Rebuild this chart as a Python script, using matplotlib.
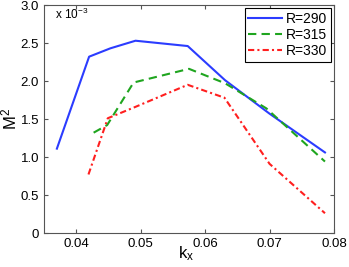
import numpy as np
import matplotlib
matplotlib.use("Agg")
import matplotlib.pyplot as plt

plt.rcParams['font.family'] = ['Liberation Sans', 'DejaVu Sans']
plt.rcParams['mathtext.fontset'] = 'custom'
plt.rcParams['mathtext.rm'] = 'Liberation Sans'

# data (M^2 in units of 1e-3)
kx_290 = [0.037, 0.042, 0.0453, 0.0492, 0.0573, 0.0631, 0.0700, 0.0786]
m2_290 = [1.11, 2.32, 2.43, 2.53, 2.46, 2.01, 1.57, 1.06]

kx_315 = [0.0427, 0.0448, 0.0489, 0.0575, 0.0631, 0.0695, 0.0786]
m2_315 = [1.32, 1.42, 1.98, 2.16, 1.97, 1.64, 0.94]

kx_330 = [0.0419, 0.0449, 0.0492, 0.0573, 0.0630, 0.0700, 0.0786]
m2_330 = [0.77, 1.51, 1.66, 1.95, 1.78, 0.91, 0.26]

xticks = [0.04, 0.05, 0.06, 0.07, 0.08]
yticks = [0, 0.5, 1.0, 1.5, 2.0, 2.5, 3.0]
ytick_labels = ["0", "0.5", "1.0", "1.5", "2.0", "2.5", "3.0"]

fig = plt.figure(figsize=(3.49, 2.67), dpi=100)
ax = fig.add_axes([44/349, 1 - 233/267, 290/349, 228/267])

ax.plot(kx_290, m2_290, "-", color="#2b3cff", lw=1.5, label="R=290")
ax.plot(kx_315, m2_315, "--", color="#1fa51f", lw=1.5, dashes=(4, 2.5), label="R=315")
ax.plot(kx_330, m2_330, "-.", color="#ff1f1f", lw=1.5, dashes=(3, 1.5, 1, 1.5), label="R=330")

ax.set_xlim(0.035, 0.08)
ax.set_ylim(0, 3.0)
ax.set_xticks(xticks)
ax.set_xticklabels(["0.04", "0.05", "0.06", "0.07", "0.08"])
ax.set_yticks(yticks)
ax.set_yticklabels(ytick_labels)
ax.tick_params(direction="in", top=True, right=True, labelsize=9.5, length=3, color="#555555")
for s in ax.spines.values():
    s.set_color("#555555")

ax.text(0.035 + 0.0017, 2.87, r"x 10$^{-3}$", fontsize=8.5, va="center")
ax.set_xlabel(r"$\mathrm{k_x}$", fontsize=12, va="center")
ax.xaxis.set_label_coords(0.49, -0.09)
ax.set_ylabel(r"$\mathrm{M^2}$", fontsize=12, va="center")
ax.yaxis.set_label_coords(-0.12, 0.5)

leg = ax.legend(loc="upper right", fontsize=10, fancybox=False, framealpha=1,
                edgecolor="black", handlelength=2.4, borderpad=0.25, labelspacing=0.15,
                handletextpad=0.3, borderaxespad=0.25)
leg.get_frame().set_linewidth(0.8)

plt.savefig("out.png", dpi=100)
